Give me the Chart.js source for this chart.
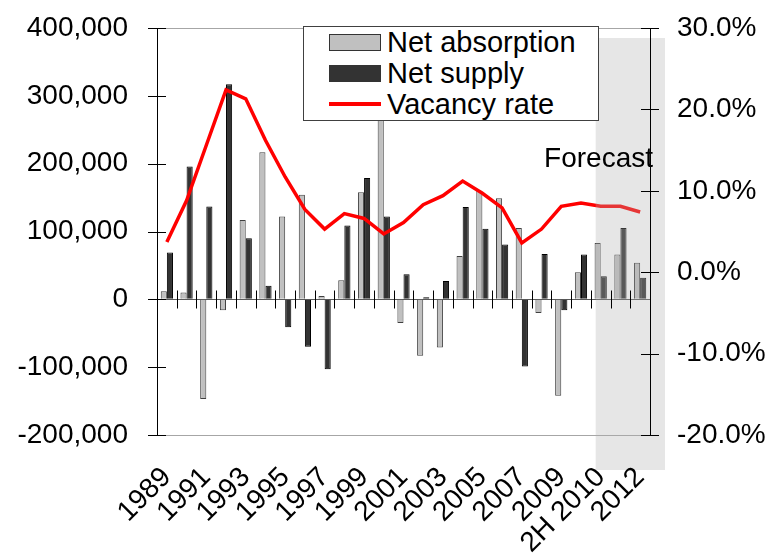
<!DOCTYPE html>
<html>
<head>
<meta charset="utf-8">
<script src="https://cdn.jsdelivr.net/npm/chart.js@4.4.0/dist/chart.umd.min.js"></script>
<style>
    body { margin: 0; background: #fff; }
    #wrap { position: relative; width: 771px; height: 554px; }
    #legend {
        position: absolute; left: 303px; top: 26px; width: 296px; height: 95px;
        box-sizing: border-box; background: #fff; border: 1px solid #404040;
        font: 29px "Liberation Sans", Arial, sans-serif; color: #000;
    }
    #legend .row { position: relative; height: 31px; line-height: 31px; padding-left: 83px; white-space: nowrap; }
    #legend .box { position: absolute; left: 25px; top: 7px; width: 52px; height: 17px; box-sizing: border-box; border: 1px solid #333; }
    #legend .line { position: absolute; left: 25px; top: 13px; width: 52px; height: 4px; background: #ff0000; }
</style>
</head>
<body>
<div id="wrap">
    <canvas id="marketChart" width="771" height="554"></canvas>
    <div id="legend">
        <div class="row"><span class="box" style="background:#c0c0c0"></span>Net absorption</div>
        <div class="row"><span class="box" style="background:#333333"></span>Net supply</div>
        <div class="row"><span class="line"></span>Vacancy rate</div>
    </div>
</div>
<script>
    /* =====================
       Data
       ===================== */
    const years = ['1989', '1990', '1991', '1992', '1993', '1994', '1995', '1996', '1997', '1998',
        '1999', '2000', '2001', '2002', '2003', '2004', '2005', '2006', '2007', '2008',
        '2009', '1H 2010', '2H 2010', '2011', '2012'];

    const netAbsorption = [12000, 10000, -147000, -16000, 117000, 217000, 122000, 154000, 5000, 28000,
        158000, 290000, -35000, -83000, -71000, 64000, 160000, 149000, 105000, -20000,
        -142000, 40000, 83000, 66000, 54000];

    const netSupply = [69000, 196000, 137000, 317000, 90000, 20000, -41000, -70000, -103000, 109000,
        179000, 122000, 37000, 3000, 27000, 136000, 104000, 81000, -99000, 67000,
        -16000, 66000, 34000, 105000, 32000];

    const vacancyRate = [3.7, 8.8, 15.6, 22.4, 21.3, 16.2, 11.7, 7.7, 5.3, 7.2,
        6.6, 4.7, 6.1, 8.3, 9.4, 11.2, 9.7, 7.9, 3.6, 5.3,
        8.1, 8.5, 8.1, 8.1, 7.4];

    const forecastFrom = '2H 2010';

    Chart.defaults.font.family = '"Liberation Sans", Arial, sans-serif';
    Chart.defaults.font.size = 28;
    Chart.defaults.color = '#000';

    /* =====================
       Plugins
       ===================== */
    // shaded forecast area, drawn over the bars like in the original
    const forecastBand = {
        id: 'forecastBand',
        afterDatasetsDraw(chart) {
            const { ctx, chartArea, scales: { x } } = chart;
            const left = x.getPixelForValue(years.indexOf(forecastFrom)) - 5;
            ctx.save();
            ctx.fillStyle = 'rgba(175,175,175,0.31)';
            ctx.fillRect(left, chartArea.top + 10, chartArea.right + 15 - left, chartArea.bottom - chartArea.top + 25);
            ctx.restore();
        },
        afterDraw(chart) {
            const { ctx, chartArea, scales: { y1 } } = chart;
            ctx.save();
            ctx.font = '28px "Liberation Sans", Arial, sans-serif';
            ctx.fillStyle = '#000';
            ctx.textAlign = 'right';
            ctx.textBaseline = 'alphabetic';
            ctx.fillText('Forecast', chartArea.right + 3, y1.getPixelForValue(10) - 24);
            ctx.restore();
        }
    };

    // tick marks that cross the axis lines
    const crossTicks = {
        id: 'crossTicks',
        afterDraw(chart) {
            const { ctx, scales: { x, y, y1 } } = chart;
            ctx.save();
            ctx.strokeStyle = '#000';
            ctx.lineWidth = 1;
            ctx.beginPath();
            y.ticks.forEach(t => {
                const py = Math.round(y.getPixelForValue(t.value)) + 0.5;
                ctx.moveTo(y.right - 9, py);
                ctx.lineTo(y.right + 9, py);
            });
            y1.ticks.forEach(t => {
                const py = Math.round(y1.getPixelForValue(t.value)) + 0.5;
                ctx.moveTo(y1.left - 9, py);
                ctx.lineTo(y1.left + 9, py);
            });
            const y0 = Math.round(y.getPixelForValue(0)) + 0.5;
            const half = (x.getPixelForValue(1) - x.getPixelForValue(0)) / 2;
            for (let i = 1; i < years.length; i++) {
                const px = Math.round(x.getPixelForValue(i) - half) + 0.5;
                ctx.moveTo(px, y0 - 9);
                ctx.lineTo(px, y0 + 9);
            }
            ctx.stroke();
            ctx.restore();
        }
    };

    // y axes: no extra room above/below for the tick labels
    function fixYAxis(width) {
        return (scale) => {
            scale.width = width;
            scale.paddingTop = 0;
            scale.paddingBottom = 0;
        };
    }

    /* =====================
       Chart
       ===================== */
    const chartCtx = document.getElementById('marketChart');
    new Chart(chartCtx, {
        type: 'bar',
        data: {
            labels: years,
            datasets: [{
                label: 'Net absorption',
                data: netAbsorption,
                backgroundColor: '#c0c0c0',
                borderColor: '#404040',
                borderWidth: 1,
                yAxisID: 'y',
                order: 1
            }, {
                label: 'Net supply',
                data: netSupply,
                backgroundColor: '#333333',
                borderColor: '#000',
                borderWidth: 1,
                yAxisID: 'y',
                order: 1
            }, {
                type: 'line',
                label: 'Vacancy rate',
                data: vacancyRate,
                borderColor: '#ff0000',
                borderWidth: 3.5,
                pointRadius: 0,
                tension: 0,
                yAxisID: 'y1',
                order: 0
            }]
        },
        options: {
            responsive: false,
            animation: false,
            devicePixelRatio: 1,
            categoryPercentage: 0.62,
            barPercentage: 1,
            layout: { padding: { top: 28, left: 0, right: 0, bottom: 0 } },
            plugins: {
                legend: { display: false },
                tooltip: { enabled: false }
            },
            scales: {
                x: {
                    grid: { display: false, drawTicks: false },
                    border: { display: false },
                    ticks: {
                        autoSkip: false,
                        minRotation: 45,
                        maxRotation: 45,
                        padding: 26,
                        z: 1,
                        callback: (value, index) => index % 2 === 0 ? years[index] : ''
                    },
                    afterFit: (scale) => { scale.height = 119; }
                },
                y: {
                    position: 'left',
                    min: -200000,
                    max: 400000,
                    grid: {
                        drawTicks: false,
                        color: (c) => {
                            if (c.tick.value === 0) return '#595959';
                            if (c.tick.value === 400000 || c.tick.value === -200000) return '#a6a6a6';
                            return 'transparent';
                        }
                    },
                    border: { color: '#000', width: 1, z: 1 },
                    ticks: {
                        stepSize: 100000,
                        padding: 29,
                        callback: (value) => value.toLocaleString('en-US')
                    },
                    afterFit: fixYAxis(157)
                },
                y1: {
                    position: 'right',
                    min: -20,
                    max: 30,
                    grid: { drawOnChartArea: false, drawTicks: false },
                    border: { color: '#000', width: 1, z: 1 },
                    ticks: {
                        stepSize: 10,
                        padding: 27,
                        callback: (value) => value.toFixed(1) + '%'
                    },
                    afterFit: fixYAxis(121)
                }
            }
        },
        plugins: [forecastBand, crossTicks]
    });
</script>
</body>
</html>
